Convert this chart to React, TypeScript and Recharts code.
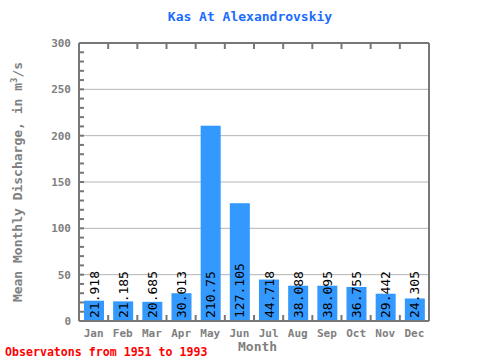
import { BarChart, Bar, XAxis, YAxis, CartesianGrid } from "recharts";

const months = ["Jan", "Feb", "Mar", "Apr", "May", "Jun", "Jul", "Aug", "Sep", "Oct", "Nov", "Dec"];
const discharge = [21.918, 21.185, 20.685, 30.013, 210.75, 127.105, 44.718, 38.088, 38.095, 36.755, 29.442, 24.305];
const yTicks = [0, 10, 20, 30, 40, 50, 60, 70, 80, 90, 100, 110, 120, 130, 140, 150, 160, 170, 180, 190, 200, 210, 220, 230, 240, 250, 260, 270, 280, 290, 300];
const gridValues = [50, 100, 150, 200, 250];

const data = months.map((m, i) => ({ month: m, value: discharge[i] }));

const FONT = "DejaVu Sans Mono";
const GRAY = "#777777";
const TEXT = "#808080";
const PLOT_W = 350;
const HALF_BAND = PLOT_W / months.length / 2;

const LeftTick = (props: any) => {
  const { x, y, payload } = props;
  const major = payload.value % 50 === 0;
  return (
    <g>
      <line x1={x} x2={x + 5} y1={y} y2={y} stroke={GRAY} strokeWidth={2} />
      {major && (
        <text x={x - 8} y={y + 4} textAnchor="end" fill={TEXT} fontFamily={FONT} fontSize={11} fontWeight="bold">
          {payload.value}
        </text>
      )}
    </g>
  );
};

const RightTick = (props: any) => {
  const { x, y } = props;
  return <line x1={x - 5} x2={x} y1={y} y2={y} stroke={GRAY} strokeWidth={2} />;
};

const BottomTick = (props: any) => {
  const { x, y, payload } = props;
  return (
    <g>
      {payload.value !== months[0] && (
        <line x1={x - HALF_BAND} x2={x - HALF_BAND} y1={y} y2={y - 6} stroke={GRAY} strokeWidth={2} />
      )}
      <text x={x} y={y + 16} textAnchor="middle" fill={TEXT} fontFamily={FONT} fontSize={11} fontWeight="bold">
        {payload.value}
      </text>
    </g>
  );
};

const TopTick = (props: any) => {
  const { x, y, payload } = props;
  if (payload.value === months[months.length - 1]) return <g />;
  return <line x1={x + HALF_BAND} x2={x + HALF_BAND} y1={y} y2={y + 6} stroke={GRAY} strokeWidth={2} />;
};

const renderBar = (props: any) => {
  const { x, y, width, height, value } = props;
  const tx = x + width / 2 + 4.5;
  const ty = y + height - 3;
  const v = Array.isArray(value) ? value[1] : value;
  return (
    <g>
      <rect x={x} y={y} width={width} height={height} fill="#3399ff" />
      <text x={tx} y={ty} transform={`rotate(-90 ${tx} ${ty})`} fontFamily={FONT} fontSize={13} fill="#000">
        {v}
      </text>
    </g>
  );
};

export default function App() {
  return (
    <div style={{ position: "absolute", left: 0, top: 0 }}>
      <BarChart width={480} height={360} data={data} margin={{ top: 33, right: 41, bottom: 9, left: 49 }}>
        <CartesianGrid vertical={false} horizontalValues={gridValues} stroke="#b4b4b4" />
        <XAxis dataKey="month" height={30} tickSize={0} tickMargin={0} tick={<BottomTick />} axisLine={{ stroke: GRAY, strokeWidth: 2 }} interval={0} />
        <XAxis xAxisId="top" dataKey="month" orientation="top" height={10} tickSize={0} tickMargin={0} tick={<TopTick />} axisLine={{ stroke: GRAY, strokeWidth: 2 }} interval={0} />
        <YAxis width={30} domain={[0, 300]} ticks={yTicks} interval={0} tickSize={0} tickMargin={0} tick={<LeftTick />} axisLine={{ stroke: GRAY, strokeWidth: 2 }} />
        <YAxis yAxisId="r" orientation="right" width={10} domain={[0, 300]} ticks={yTicks} interval={0} tickSize={0} tickMargin={0} tick={<RightTick />} axisLine={{ stroke: GRAY, strokeWidth: 2 }} />
        <Bar dataKey="value" fill="#3399ff" barSize={20} isAnimationActive={false} shape={renderBar} />
      </BarChart>
      <div style={{ position: "absolute", left: 0, top: 9, width: 500, textAlign: "center", color: "#1a6cff", fontFamily: FONT, fontSize: 13, fontWeight: "bold" }}>
        Kas At Alexandrovskiy
      </div>
      <div style={{ position: "absolute", left: 238, top: 339, color: TEXT, fontFamily: FONT, fontSize: 13, fontWeight: "bold" }}>Month</div>
      <div
        style={{
          position: "absolute",
          left: 17,
          top: 182,
          transform: "translate(-50%, -50%) rotate(-90deg)",
          whiteSpace: "nowrap",
          color: TEXT,
          fontFamily: FONT,
          fontSize: 13,
          fontWeight: "bold",
        }}
      >
        Mean Monthly Discharge, in m<sup style={{ fontSize: 9 }}>3</sup>/s
      </div>
      <div style={{ position: "absolute", left: 5, top: 345, whiteSpace: "nowrap", color: "#ff0000", fontFamily: FONT, fontSize: 11.6, fontWeight: "bold" }}>
        Observatons from 1951 to 1993
      </div>
    </div>
  );
}
